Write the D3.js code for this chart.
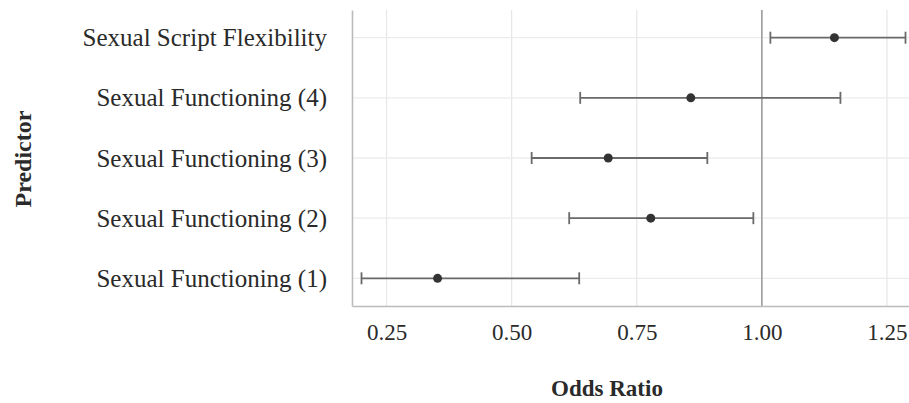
<!DOCTYPE html>
<html>
<head>
<meta charset="utf-8">
<script src="https://cdn.jsdelivr.net/npm/d3@7"></script>
<style>
  body { margin: 0; background: #fff; }
  text { font-family: "Liberation Serif", "Times New Roman", serif; }
</style>
</head>
<body>
<svg id="chart" width="909" height="403"></svg>
<script>
// predictors, top to bottom
const predictors = [
  "Sexual Script Flexibility",
  "Sexual Functioning (4)",
  "Sexual Functioning (3)",
  "Sexual Functioning (2)",
  "Sexual Functioning (1)"
];
const oddsRatio = [1.145, 0.858, 0.693, 0.778, 0.352];
const ciLow = [1.017, 0.637, 0.540, 0.615, 0.200];
const ciHigh = [1.287, 1.157, 0.891, 0.983, 0.635];
const xTicks = [0.25, 0.50, 0.75, 1.00, 1.25];

const data = predictors.map((p, i) => ({ p, or: oddsRatio[i], lo: ciLow[i], hi: ciHigh[i] }));

const svg = d3.select("#chart");
const margin = { top: 10, right: -3, bottom: 97, left: 352 };
const width = +svg.attr("width");
const height = +svg.attr("height");

const x = d3.scaleLinear()
  .domain([0.181, 1.30])
  .range([margin.left, width - margin.right]);

const y = d3.scalePoint()
  .domain(predictors)
  .range([margin.top, height - margin.bottom])
  .padding(0.46);

// vertical gridlines
svg.append("g")
  .selectAll("line")
  .data(xTicks)
  .join("line")
  .attr("x1", d => x(d)).attr("x2", d => x(d))
  .attr("y1", margin.top).attr("y2", height - margin.bottom)
  .attr("stroke", "#e6e6e6")
  .attr("stroke-width", 1.2);

// horizontal gridlines
svg.append("g")
  .selectAll("line")
  .data(predictors)
  .join("line")
  .attr("x1", margin.left).attr("x2", width)
  .attr("y1", d => y(d)).attr("y2", d => y(d))
  .attr("stroke", "#ececec")
  .attr("stroke-width", 1.4);

// reference line at 1
svg.append("line")
  .attr("x1", x(1)).attr("x2", x(1))
  .attr("y1", margin.top).attr("y2", height - margin.bottom)
  .attr("stroke", "#999")
  .attr("stroke-width", 1.5);

// axes
const xAxis = svg.append("g")
  .attr("transform", `translate(0,${height - margin.bottom})`)
  .call(d3.axisBottom(x).tickValues(xTicks).tickFormat(d3.format(".2f")).tickSize(0).tickPadding(18));
xAxis.select(".domain").attr("stroke", "#bbb").attr("stroke-width", 1.6);
xAxis.selectAll("text").attr("font-size", 23).attr("fill", "#2a2a2a");

const yAxis = svg.append("g")
  .attr("transform", `translate(${margin.left},0)`)
  .call(d3.axisLeft(y).tickSize(0).tickPadding(25));
yAxis.select(".domain").attr("stroke", "#bbb").attr("stroke-width", 1.6);
yAxis.selectAll("text").attr("font-size", 25).attr("fill", "#2a2a2a");

// error bars
const bars = svg.append("g")
  .selectAll("g")
  .data(data)
  .join("g")
  .attr("transform", d => `translate(0,${y(d.p)})`);

bars.append("line")
  .attr("x1", d => x(d.lo)).attr("x2", d => x(d.hi))
  .attr("stroke", "#6a6a6a").attr("stroke-width", 1.8);

bars.append("line")
  .attr("x1", d => x(d.lo)).attr("x2", d => x(d.lo))
  .attr("y1", -6).attr("y2", 6)
  .attr("stroke", "#6a6a6a").attr("stroke-width", 1.8);

bars.append("line")
  .attr("x1", d => x(d.hi)).attr("x2", d => x(d.hi))
  .attr("y1", -6).attr("y2", 6)
  .attr("stroke", "#6a6a6a").attr("stroke-width", 1.8);

bars.append("circle")
  .attr("cx", d => x(d.or))
  .attr("r", 4.5)
  .attr("fill", "#333");

// axis titles
svg.append("text")
  .attr("x", 607).attr("y", 396)
  .attr("text-anchor", "middle")
  .attr("font-size", 23).attr("font-weight", "bold").attr("fill", "#2a2a2a")
  .text("Odds Ratio");

svg.append("text")
  .attr("transform", "translate(31,159) rotate(-90)")
  .attr("text-anchor", "middle")
  .attr("font-size", 24).attr("font-weight", "bold").attr("fill", "#2a2a2a")
  .text("Predictor");
</script>
</body>
</html>
